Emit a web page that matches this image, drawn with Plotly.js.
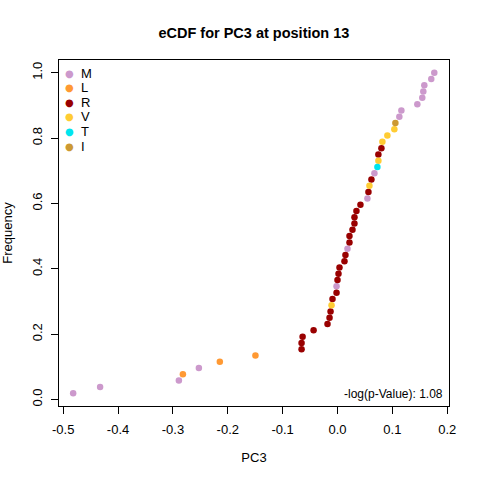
<!DOCTYPE html>
<html>
<head>
<meta charset="utf-8">
<script src="https://cdn.plot.ly/plotly-3.0.1.min.js"></script>
<style>html,body{margin:0;padding:0;background:#fff;}#chart{width:480px;height:480px;}</style>
</head>
<body>
<div id="chart"></div>
<script>
// PC3 values (sorted) and residue at each value
const pc3 = [-0.4818,-0.4327,-0.2891,-0.2818,-0.2527,-0.2145,-0.1496,
  -0.0655,-0.0655,-0.0636,-0.0436,-0.0182,-0.0145,-0.0127,-0.0109,-0.0091,
  -0.0018,-0.0018,0.0000,0.0018,0.0036,0.0127,0.0145,0.0182,0.0218,0.0218,
  0.0273,0.0309,0.0309,0.0345,0.0418,0.0545,0.0564,0.0582,0.0618,0.0673,
  0.0727,0.0745,0.0745,0.0800,0.0818,0.0909,0.1036,0.1055,0.1127,0.1164,
  0.1455,0.1545,0.1564,0.1582,0.1709,0.1764];
const residues = ["M","M","M","L","M","L","L",
  "R","R","R","R","R","R","R","V","R",
  "R","M","R","R","R","R","R","M","R","R",
  "R","R","R","R","R","M","R","V","R","M",
  "T","V","R","R","V","V","V","I","M","M",
  "M","M","M","M","M","M"];
const legendLabels = ["M","L","R","V","T","I"];
const legendColors = ["#CC99CC","#FF9933","#990000","#FFCC33","#00E5EE","#CC9933"];
const pValueText = "-log(p-Value): 1.08";
const xTicks = [-0.5,-0.4,-0.3,-0.2,-0.1,0.0,0.1,0.2];
const xTickText = ["-0.5","-0.4","-0.3","-0.2","-0.1","0.0","0.1","0.2"];
const yTicks = [0.0,0.2,0.4,0.6,0.8,1.0];
const yTickText = ["0.0","0.2","0.4","0.6","0.8","1.0"];

// empirical CDF
const n = pc3.length;
const freq = pc3.map((v,i)=>(i+1)/n);

const traces = legendLabels.map((lab,j)=>{
  const xs=[],ys=[];
  residues.forEach((r,i)=>{ if(r===lab){xs.push(pc3[i]);ys.push(freq[i]);} });
  return {x:xs,y:ys,type:'scatter',mode:'markers',name:lab,showlegend:false,
    marker:{color:legendColors[j],size:6.5,line:{width:0}},hoverinfo:'skip'};
});

// plot area in pixels (for placing legend annotations)
const M = {l:59,r:31,t:60,b:74};
const plotW = 480-M.l-M.r, plotH = 480-M.t-M.b;
const legX0 = 69.5, legTextX = 79, legY0 = 73.5, legStep = 14.5;

const annotations = [{text:pValueText,xref:'paper',yref:'paper',x:0.99,y:0.035,
    xanchor:'right',yanchor:'middle',showarrow:false,font:{size:12}}];
legendLabels.forEach((lab,i)=>{
  const yp = (480-M.b-(legY0+legStep*i))/plotH;
  annotations.push({text:'●',xref:'paper',yref:'paper',x:(legX0-M.l)/plotW,y:yp,
    xanchor:'center',yanchor:'middle',showarrow:false,
    font:{family:'DejaVu Sans',size:10,color:legendColors[i]}});
  annotations.push({text:lab,xref:'paper',yref:'paper',x:(legTextX-M.l)/plotW,y:yp,
    xanchor:'left',yanchor:'middle',showarrow:false,font:{size:13}});
});

const font = "Liberation Sans, Arial, sans-serif";
const layout = {
  width:480,height:480,
  margin:{l:M.l,r:M.r,t:M.t,b:M.b,pad:0},
  paper_bgcolor:'#fff',plot_bgcolor:'#fff',
  font:{family:font,size:13,color:'#000'},
  title:{text:'<b>eCDF for PC3 at position 13</b>',font:{family:font,size:14.5,color:'#000'},
    x:0.529,xanchor:'center',y:0.931,yanchor:'middle'},
  xaxis:{range:[-0.5076,0.2032],tickvals:xTicks,ticktext:xTickText,
    showline:true,mirror:true,linecolor:'#000',linewidth:1,
    ticks:'outside',ticklen:7,tickcolor:'#000',tickwidth:1,ticklabelstandoff:4,
    showgrid:false,zeroline:false,tickfont:{size:13},
    title:{text:'PC3',font:{size:13},standoff:17},automargin:false},
  yaxis:{range:[-0.02,1.039],tickvals:yTicks,ticktext:yTickText,
    showline:true,mirror:true,linecolor:'#000',linewidth:1,
    ticks:'outside',ticklen:7,tickcolor:'#000',tickwidth:1,tickangle:-90,ticklabelstandoff:4,
    showgrid:false,zeroline:false,tickfont:{size:13},
    title:{text:'Frequency',font:{size:13},standoff:15},automargin:false},
  showlegend:false,
  annotations:annotations
};
Plotly.newPlot('chart',traces,layout,{staticPlot:true,displayModeBar:false});
</script>
</body>
</html>
